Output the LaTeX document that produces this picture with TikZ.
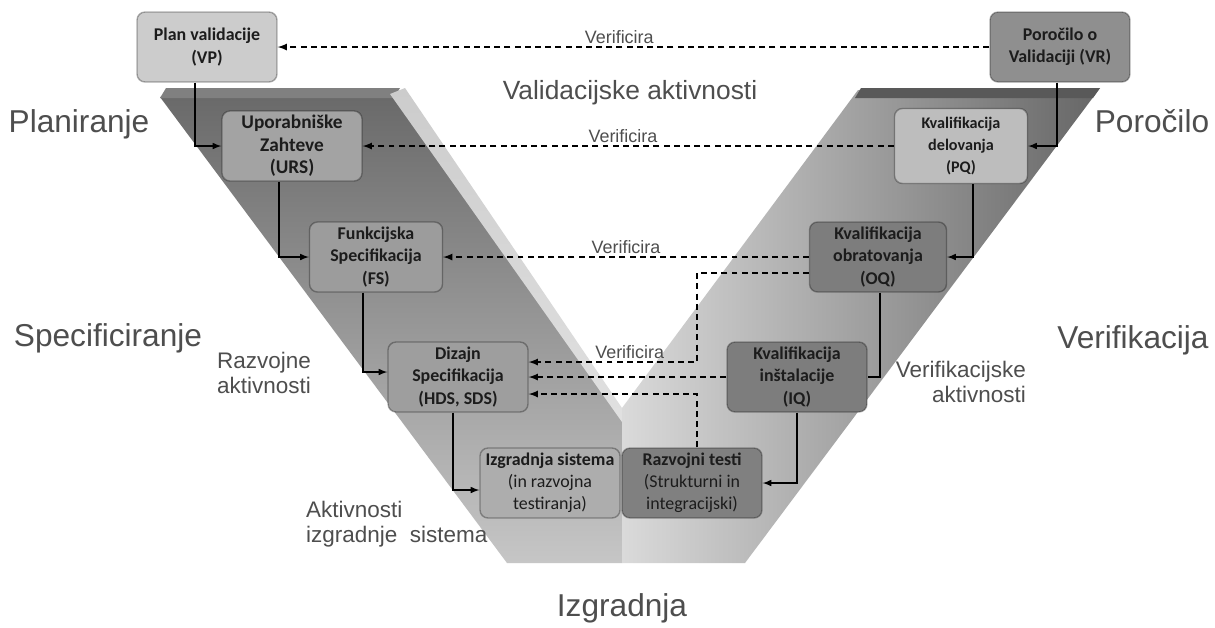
\documentclass[tikz,border=0pt]{standalone}
\usepackage{fontspec}
\setmainfont{Liberation Sans}
\newfontfamily\boxfont{Carlito}
\definecolor{labelgray}{HTML}{4E4E4E}
\definecolor{boxtext}{HTML}{1C1C1C}
\definecolor{armtop}{HTML}{686868}
\definecolor{armbottom}{HTML}{C6C6C6}
\definecolor{rightlight}{HTML}{DADADA}
\definecolor{rightdark}{HTML}{666666}
\begin{document}
\begin{tikzpicture}[x=0.02cm,y=-0.02cm,>=latex,
  stagebox/.style={draw=black,draw opacity=0.3,line width=0.8pt,rounded corners=0.16cm,
    minimum width=2.8cm,minimum height=1.4cm,align=center,inner sep=1pt,text=boxtext,
    font=\boxfont\bfseries\fontsize{10.2}{12.6}\selectfont},
  flowarrow/.style={->,line width=0.7pt},
  verifarrow/.style={->,line width=0.8pt,dash pattern=on 3.4pt off 2.4pt},
  verlabel/.style={above,inner sep=1.5pt,text=labelgray,font=\fontsize{10.2}{12}\selectfont},
  phaselabel/.style={text=labelgray,font=\fontsize{18}{21}\selectfont},
  actlabel/.style={text=labelgray,font=\fontsize{12.8}{14.2}\selectfont}]
\useasboundingbox (0,0) rectangle (1215,627);
\fill[white] (0,0) rectangle (1215,627);
\shade[top color=armtop,bottom color=armbottom] (160,97) -- (395,88) -- (622,410) -- (622,563) -- (507,563) -- cycle;
\shade[left color=rightlight,right color=rightdark] (858,90) -- (1100,88) -- (745,563) -- (622,563) -- (622,408) -- cycle;
\fill[black!50] (160,98) -- (166,88) -- (400,88) -- (394,98) -- cycle;
\fill[black!65] (855,98) -- (861,88) -- (1100,88) -- (1093,98) -- cycle;
\shade[top color=black!20,bottom color=black!12] (390,94) -- (405,88) -- (622,408) -- (622,422) -- cycle;

\node[stagebox,fill=black!20] (VP) at (207,47) {Plan validacije\\(VP)};
\node[stagebox,fill=black!44] (VR) at (1060,47) {Poročilo o\\Validaciji (VR)};
\node[stagebox,fill=black!36,font=\boxfont\bfseries\fontsize{11}{12.8}\selectfont] (URS) at (292,146) {Uporabniške\\Zahteve\\(URS)};
\node[stagebox,fill=black!26,minimum width=2.66cm,minimum height=1.5cm,font=\boxfont\bfseries\fontsize{9.2}{12.4}\selectfont] (PQ) at (961,146) {Kvalifikacija\\delovanja\\(PQ)};
\node[stagebox,fill=black!39,minimum width=2.66cm] (FS) at (376,257) {Funkcijska\\Specifikacija\\(FS)};
\node[stagebox,fill=black!51,minimum width=2.74cm] (OQ) at (878,257) {Kvalifikacija\\obratovanja\\(OQ)};
\node[stagebox,fill=black!38] (DS) at (458,377) {Dizajn\\Specifikacija\\(HDS, SDS)};
\node[stagebox,fill=black!51] (IQ) at (797,377) {Kvalifikacija\\inštalacije\\(IQ)};
\node[stagebox,fill=black!32] (IS) at (550,483) {Izgradnja sistema\\{\mdseries(in razvojna}\\{\mdseries testiranja)}};
\node[stagebox,fill=black!50] (RT) at (692,483) {Razvojni testi\\{\mdseries(Strukturni in}\\{\mdseries integracijski)}};

\coordinate (dsup) at ([yshift=.3cm]DS.east);
\coordinate (dslow) at ([yshift=-.34cm]DS.east);
\coordinate (oqlow) at ([yshift=-.32cm]OQ.west);
\coordinate (vx) at ([xshift=.1cm]RT.north);

\draw[flowarrow] ([xshift=-.24cm]VP.south) |- (URS.west);
\draw[flowarrow] ([xshift=-.26cm]URS.south) |- (FS.west);
\draw[flowarrow] ([xshift=-.26cm]FS.south) |- ([yshift=.1cm]DS.west);
\draw[flowarrow] ([xshift=-.1cm]DS.south) |- ([yshift=-.14cm]IS.west);
\draw[flowarrow] ([xshift=-.06cm]VR.south) |- (PQ.east);
\draw[flowarrow] ([xshift=.24cm]PQ.south) |- (OQ.east);
\draw[line width=0.7pt] ([xshift=.04cm]OQ.south) |- (IQ.east);
\draw[flowarrow] (IQ.south) |- (RT.east);

\draw[verifarrow] (VR.west) -- node[verlabel,pos=.52] {Verificira} (VP.east);
\draw[verifarrow] (PQ.west) -- node[verlabel,pos=.51] {Verificira} (URS.east);
\draw[verifarrow] (OQ.west) -- node[verlabel] {Verificira} (FS.east);
\draw[verifarrow] (oqlow) -| (vx |- dsup) -- node[verlabel,pos=.4] {Verificira} (dsup);
\draw[verifarrow] (IQ.west) -- (DS.east);
\draw[verifarrow] (vx) |- (dslow);

\node[phaselabel] (plan) at (79,124) {Planiranje};
\node[phaselabel] (spec) at (108,338) {Specificiranje};
\node[phaselabel] (poro) at (1152,121) {Poročilo};
\node[phaselabel] (verif) at (1133,340) {Verifikacija};
\node[phaselabel] (izgr) at (622,608) {Izgradnja};
\node[actlabel,font=\fontsize{15}{17}\selectfont] (valid) at (630,93) {Validacijske aktivnosti};
\node[actlabel,anchor=west,align=left] (razv) at (211,373) {Razvojne\\aktivnosti};
\node[actlabel,anchor=east,align=right] (verakt) at (1032,382) {Verifikacijske\\aktivnosti};
\node[actlabel,anchor=west,align=left] (izakt) at (300,524) {Aktivnosti\\izgradnje\ \ sistema};
\end{tikzpicture}
\end{document}
